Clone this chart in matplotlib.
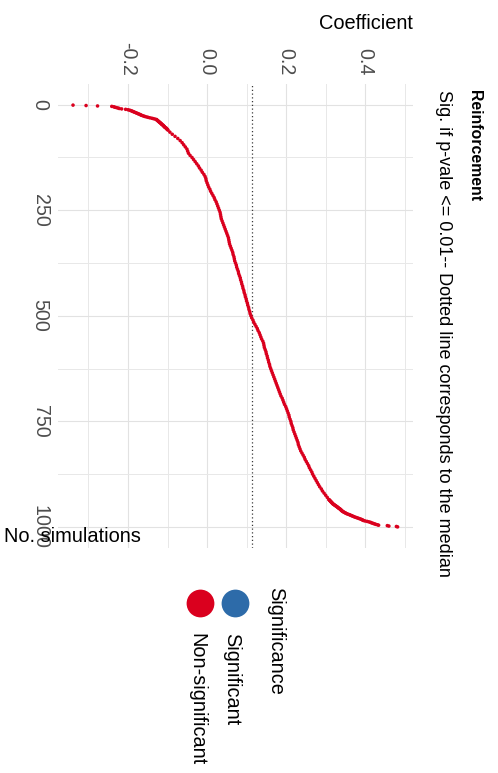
import matplotlib
matplotlib.use("Agg")
import matplotlib.pyplot as plt
from matplotlib import font_manager
from matplotlib.lines import Line2D

# ---- data: sorted coefficients of the simulations (rank order) ----
head_rank = list(range(1, 61))
head_coef = [
    -0.339, -0.306, -0.277, -0.241, -0.236, -0.233, -0.229, -0.225, -0.222, -0.216,
    -0.206, -0.200, -0.196, -0.193, -0.190, -0.188, -0.185, -0.183, -0.180, -0.178,
    -0.175, -0.173, -0.170, -0.168, -0.166, -0.163, -0.160, -0.157, -0.153, -0.149,
    -0.145, -0.140, -0.136, -0.132, -0.128, -0.127, -0.126, -0.125, -0.123, -0.122,
    -0.121, -0.120, -0.118, -0.117, -0.116, -0.115, -0.114, -0.112, -0.111, -0.110,
    -0.109, -0.108, -0.107, -0.106, -0.104, -0.103, -0.102, -0.101, -0.100, -0.099,
]

mid_rank = list(range(65, 936, 5))
mid_coef = [
    -0.094, -0.088,
    -0.081, -0.074, -0.068, -0.063, -0.059, -0.055, -0.051, -0.049, -0.047, -0.043,
    -0.038, -0.034, -0.030, -0.026, -0.022, -0.019, -0.015, -0.012, -0.008, -0.005,
    -0.003, -0.002, 0.000, 0.002, 0.004, 0.007, 0.009, 0.012, 0.015, 0.018,
    0.020, 0.023, 0.025, 0.027, 0.029, 0.031, 0.033, 0.034, 0.035, 0.036,
    0.038, 0.040, 0.042, 0.044, 0.046, 0.048, 0.050, 0.052, 0.054, 0.055,
    0.056, 0.057, 0.059, 0.061, 0.063, 0.065, 0.066, 0.068, 0.069, 0.070,
    0.072, 0.074, 0.075, 0.077, 0.079, 0.080, 0.082, 0.084, 0.085, 0.087,
    0.088, 0.090, 0.091, 0.093, 0.094, 0.096, 0.097, 0.099, 0.100, 0.102,
    0.103, 0.105, 0.106, 0.108, 0.109, 0.111, 0.113, 0.116, 0.118, 0.121,
    0.124, 0.127, 0.129, 0.132, 0.134, 0.136, 0.138, 0.141, 0.143, 0.144,
    0.145, 0.147, 0.149, 0.150, 0.152, 0.153, 0.155, 0.156, 0.158, 0.159,
    0.161, 0.163, 0.165, 0.167, 0.169, 0.171, 0.173, 0.175, 0.177, 0.179,
    0.181, 0.183, 0.185, 0.187, 0.190, 0.192, 0.194, 0.196, 0.199, 0.201,
    0.203, 0.205, 0.207, 0.208, 0.210, 0.212, 0.213, 0.215, 0.217, 0.218,
    0.220, 0.222, 0.224, 0.226, 0.228, 0.230, 0.231, 0.233, 0.235, 0.237,
    0.240, 0.243, 0.246, 0.248, 0.251, 0.254, 0.257, 0.259, 0.262, 0.265,
    0.267, 0.270, 0.273, 0.276, 0.279, 0.282, 0.285, 0.289, 0.292, 0.296,
    0.300, 0.304, 0.308,
]

tail_rank = list(range(936, 1001))
tail_coef = [
    0.309, 0.310, 0.311, 0.312, 0.313, 0.314, 0.315, 0.316, 0.317, 0.318,
    0.319, 0.321, 0.322, 0.324, 0.325, 0.327, 0.328, 0.330, 0.331, 0.332,
    0.334, 0.335, 0.337, 0.338, 0.339, 0.340, 0.341, 0.343, 0.344, 0.346,
    0.348, 0.350, 0.352, 0.354, 0.357, 0.360, 0.362, 0.365, 0.367, 0.370,
    0.372, 0.375, 0.378, 0.381, 0.384, 0.387, 0.390, 0.392, 0.394, 0.396,
    0.400, 0.405, 0.409, 0.413, 0.415, 0.418, 0.421, 0.424, 0.427, 0.431,
    0.434, 0.456, 0.460, 0.479, 0.482,
]

median_coef = 0.113

sim_rank = head_rank + mid_rank + tail_rank
coefficient = head_coef + mid_coef + tail_coef
significance = ["Non-significant"] * len(coefficient)

legend_levels = ["Significant", "Non-significant"]
level_colors = {"Significant": "#2D6BA9", "Non-significant": "#DA001E"}

x_ticks = [-0.2, 0.0, 0.2, 0.4]
x_tick_labels = ["-0.2", "0.0", "0.2", "0.4"]
x_minor = [-0.3, -0.1, 0.1, 0.3, 0.5]
y_ticks = [0, 250, 500, 750, 1000]
y_tick_labels = ["0", "250", "500", "750", "1000"]
y_minor = [125, 375, 625, 875]

title = "Reinforcement"
subtitle = "Sig. if p-vale <= 0.01-- Dotted line corresponds to the median"

# ---- fonts ----
available = {f.name for f in font_manager.fontManager.ttflist}
if "Liberation Sans Narrow" in available:
    FAMILY = ["Liberation Sans Narrow", "DejaVu Sans"]
    k = 1.0
else:
    FAMILY = ["Liberation Sans", "DejaVu Sans"]
    k = 0.82
plt.rcParams["font.family"] = FAMILY

TICK_FS = 17.2 * k
AXT_FS = 17.6 * k
LEG_FS = 17.5 * k
TITLE_FS = 14.0 * k
SUB_FS = 15.8 * k

W, H = 498, 773
fig = plt.figure(figsize=(W / 100, H / 100), dpi=100)
fig.patch.set_facecolor("white")


def fx(px):
    return px / W


def fy(py):
    return 1 - py / H


left, right, top, bottom = 58, 413, 84, 548
ax = fig.add_axes([fx(left), fy(bottom), (right - left) / W, (bottom - top) / H])
ax.set_facecolor("white")

colors = [level_colors[s] for s in significance]
ax.scatter(coefficient, sim_rank, s=6.5, c=colors, edgecolors="none", zorder=3)
ax.axvline(median_coef, color="#3A3A3A", lw=0.9, ls=(0, (1, 2)), zorder=2)

ax.set_xlim(-0.377, 0.521)
ax.set_ylim(1050, -49)

ax.xaxis.tick_top()
ax.set_xticks(x_ticks)
ax.set_xticklabels(x_tick_labels)
ax.set_xticks(x_minor, minor=True)
ax.set_yticks(y_ticks)
ax.set_yticklabels(y_tick_labels)
ax.set_yticks(y_minor, minor=True)

ax.grid(which="major", color="#E2E2E2", lw=0.8, zorder=0)
ax.grid(which="minor", color="#E8E8E8", lw=0.7, zorder=0)
ax.set_axisbelow(True)
for sp in ax.spines.values():
    sp.set_visible(False)

ax.tick_params(axis="both", which="both", length=0)
ax.tick_params(axis="x", which="major", pad=6, labelsize=TICK_FS,
               labelcolor="#4D4D4D", labelrotation=-90)
ax.tick_params(axis="y", which="major", pad=6, labelsize=TICK_FS,
               labelcolor="#4D4D4D", labelrotation=-90)
for lab in ax.get_yticklabels():
    lab.set_va("center")

# axis titles
fig.text(fx(413), fy(23.5), "Coefficient", ha="right", va="center",
         fontsize=AXT_FS, color="black")
fig.text(fx(4), fy(537), "No. simulations", ha="left", va="center",
         fontsize=AXT_FS, color="black")

# title and subtitle
fig.text(fx(474), fy(90), title, rotation=-90, ha="center", va="top",
         fontsize=TITLE_FS, fontweight="bold", color="black")
fig.text(fx(443), fy(90), subtitle, rotation=-90, ha="center", va="top",
         fontsize=SUB_FS, color="black")

# legend
fig.text(fx(276), fy(587), "Significance", rotation=-90, ha="center", va="top",
         fontsize=LEG_FS, color="black")
key_x = {"Significant": 235, "Non-significant": 200}
label_x = {"Significant": 231.5, "Non-significant": 197}
for lvl in legend_levels:
    fig.add_artist(Line2D([fx(key_x[lvl])], [fy(603)], marker="o", markersize=20,
                          markerfacecolor=level_colors[lvl], markeredgecolor="none",
                          linestyle="none", transform=fig.transFigure))
    fig.text(fx(label_x[lvl]), fy(633), lvl, rotation=-90, ha="center", va="top",
             fontsize=LEG_FS, color="black")

fig.savefig("out.png", dpi=100, facecolor="white")
